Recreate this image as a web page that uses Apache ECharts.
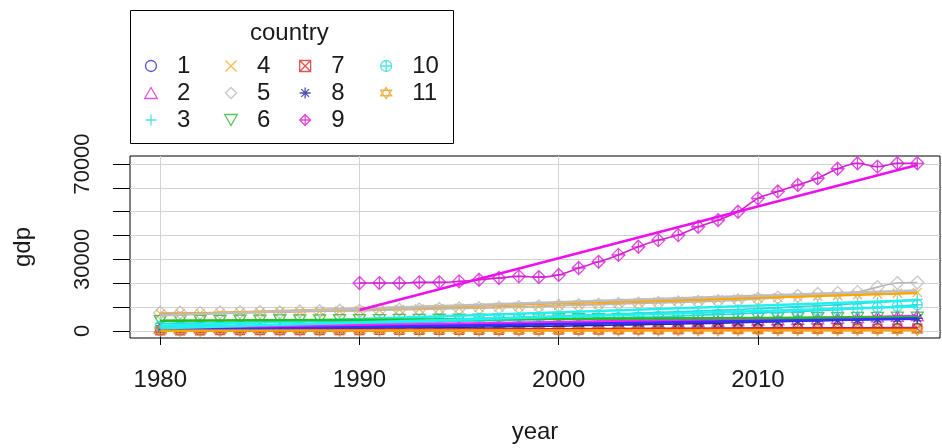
<!DOCTYPE html>
<html lang="en">
<head>
    <meta charset="UTF-8">
    <title>gdp by year and country</title>
    <script src="https://cdn.jsdelivr.net/npm/echarts@6/dist/echarts.min.js"></script>
</head>
<body style="margin:0;background:#fff">
<div id="main" style="width:942px;height:448px"></div>
</body>

<script>
    // years on the x axis
    const years = [1980, 1981, 1982, 1983, 1984, 1985, 1986, 1987, 1988, 1989,
        1990, 1991, 1992, 1993, 1994, 1995, 1996, 1997, 1998, 1999,
        2000, 2001, 2002, 2003, 2004, 2005, 2006, 2007, 2008, 2009,
        2010, 2011, 2012, 2013, 2014, 2015, 2016, 2017, 2018];
    // country 9 only starts in 1990
    const years9 = years.slice(10);

    const countries = ['1', '2', '3', '4', '5', '6', '7', '8', '9', '10', '11'];

    // gdp per country
    const gdp1 = [250, 260, 280, 300, 310, 330, 350, 380, 400, 420, 450, 470, 500, 520, 540, 560, 590, 620, 650, 680,
        700, 730, 760, 800, 830, 870, 900, 940, 980, 1020, 1050, 1080, 1100, 1130, 1150, 1180, 1200, 1230, 1260];
    const gdp2 = [1400, 1450, 1480, 1500, 1550, 1600, 1650, 1700, 1780, 1850, 1900, 1950, 2000, 2100, 2200, 2300, 2400, 2500, 2600, 2700,
        2850, 3000, 3150, 3300, 3450, 3600, 3800, 4000, 4200, 4400, 4600, 4800, 5000, 5200, 5400, 5700, 6000, 6200, 6500];
    const gdp3 = [3200, 3300, 3300, 3400, 3500, 3600, 3700, 3800, 3900, 4000, 4200, 4300, 4500, 4700, 4900, 5100, 5300, 5500, 5700, 6000,
        6300, 6600, 6900, 7200, 7500, 7800, 8100, 8400, 8700, 9000, 9400, 9800, 10200, 10600, 11000, 11500, 12000, 12600, 13200];
    const gdp4 = [7200, 7300, 7400, 7500, 7700, 7800, 8000, 8100, 8300, 8400, 8600, 8800, 9000, 9200, 9400, 9600, 9800, 10000, 10200, 10400,
        10700, 11000, 11300, 11600, 11900, 12200, 12500, 12800, 13100, 13400, 13700, 14000, 14300, 14600, 14900, 15200, 15500, 15800, 16200];
    const gdp5 = [7600, 7700, 7500, 7800, 7900, 8000, 7800, 8200, 8300, 8500, 8400, 8700, 8900, 9000, 9200, 9400, 9600, 9800, 10000, 10300,
        10600, 10800, 11000, 11300, 11500, 11800, 12000, 12200, 12500, 12800, 13400, 14000, 14700, 15500, 15900, 16300, 18400, 20100, 20300];
    const gdp6 = [4300, 4350, 4400, 4400, 4450, 4500, 4550, 4550, 4600, 4650, 4700, 4700, 4750, 4800, 4850, 4850, 4900, 4950, 5000, 5000,
        5050, 5100, 5150, 5150, 5200, 5250, 5300, 5300, 5350, 5400, 5450, 5450, 5500, 5550, 5600, 5600, 5650, 5700, 5750];
    const gdp7 = [300, 310, 320, 330, 340, 350, 360, 380, 390, 400, 420, 430, 450, 460, 480, 500, 510, 530, 550, 570,
        590, 610, 630, 650, 680, 700, 720, 750, 780, 800, 830, 860, 890, 920, 950, 980, 1010, 1040, 1080];
    const gdp8 = [800, 820, 850, 880, 900, 950, 1000, 1050, 1100, 1150, 1200, 1250, 1300, 1380, 1450, 1550, 1650, 1750, 1850, 1950,
        2050, 2200, 2350, 2500, 2650, 2800, 2950, 3100, 3300, 3500, 3700, 3900, 4100, 4300, 4500, 4700, 4900, 5100, 5300];
    const gdp9 = [20100, 20100, 20100, 20400, 20400, 20800, 21500, 22200, 22900, 22600,
        23500, 26400, 29000, 31900, 35300, 38100, 40200, 43700, 46500, 50000,
        55600, 58500, 61200, 64000, 68000, 70300, 68900, 70300, 70300];
    const gdp10 = [2000, 2050, 2100, 2200, 2300, 2400, 2500, 2600, 2700, 2800, 3000, 3200, 3400, 3600, 3800, 4000, 4200, 4400, 4600, 4800,
        5000, 5200, 5400, 5600, 5800, 6000, 6300, 6600, 6900, 7200, 7500, 7800, 8100, 8500, 8900, 9400, 9900, 10400, 11000];
    const gdp11 = [100, 110, 110, 120, 120, 130, 130, 140, 140, 150, 150, 160, 160, 170, 180, 180, 190, 200, 200, 210,
        220, 230, 240, 250, 260, 270, 280, 290, 300, 310, 320, 330, 340, 350, 360, 370, 380, 390, 400];

    const gdpByCountry = [gdp1, gdp2, gdp3, gdp4, gdp5, gdp6, gdp7, gdp8, gdp9, gdp10, gdp11];
    const yearsByCountry = countries.map((c, i) => i === 8 ? years9 : years);

    // straight fitted line of each country, at its first and its last year
    const fitStart = [150, 1000, 2200, 6900, 6600, 4300, 200, 300, 8800, 1200, 90];
    const fitEnd = [1250, 6200, 12900, 15900, 17000, 5750, 1000, 5200, 69600, 10300, 390];

    // axis ticks and labels
    const xTicks = [1980, 1990, 2000, 2010];
    const yTicks = [0, 10000, 20000, 30000, 40000, 50000, 60000, 70000];
    const yLabels = [0, 30000, 70000];

    // legend columns, filled column by column as R does
    const legendColumns = [['1', '2', '3'], ['4', '5', '6'], ['7', '8', '9'], ['10', '11']];
    const legendLefts = [144, 224, 299, 380];

    const colors = ['#2727c8', '#d62cd6', '#2ad8d8', '#f5a623', '#b9b9b9', '#2fb22f',
        '#d42a2a', '#23239e', '#d41fd4', '#2ad8d8', '#e8a020'];
    const lineColors = ['#3030ff', '#ff20ff', '#20f0f0', '#ffa500', '#bebebe', '#20c020',
        '#ff2020', '#3030ff', '#ee10ee', '#20f0f0', '#ffa500'];

    // R style plotting characters 1..11
    const symbols = [
        'path://M20,10A10,10,0,1,1,0,10A10,10,0,1,1,20,10Z',
        'path://M10,0L20,17.32L0,17.32Z',
        'path://M10,0L10,20M0,10L20,10',
        'path://M0,0L20,20M20,0L0,20',
        'path://M10,0L20,10L10,20L0,10Z',
        'path://M0,0L20,0L10,17.32Z',
        'path://M0,0L20,0L20,20L0,20ZM0,0L20,20M20,0L0,20',
        'path://M10,0L10,20M0,10L20,10M3,3L17,17M17,3L3,17',
        'path://M10,0L20,10L10,20L0,10ZM10,0L10,20M0,10L20,10',
        'path://M20,10A10,10,0,1,1,0,10A10,10,0,1,1,20,10ZM10,0L10,20M0,10L20,10',
        'path://M10,0L20,15L0,15ZM0,5L20,5L10,20Z'
    ];
    const symbolSizes = [9, 12, 11, 9, 13, 12, 9, 11, 13, 10, 11];

    const font = 'Liberation Sans, Arial, sans-serif';
    const textColor = '#1a1a1a';

    const chart = echarts.init(document.getElementById('main'));

    const pointSeries = countries.map((name, i) => ({
        name: name,
        type: 'scatter',
        symbol: symbols[i],
        symbolSize: symbolSizes[i],
        symbolKeepAspect: true,
        clip: false,
        itemStyle: {color: 'transparent', borderColor: colors[i], borderWidth: 1.3},
        data: yearsByCountry[i].map((y, k) => [y, gdpByCountry[i][k]])
    }));

    const smoothSeries = countries.map((name, i) => ({
        name: name + ' smooth',
        type: 'line',
        smooth: 0.3,
        showSymbol: false,
        silent: true,
        lineStyle: {color: colors[i], width: 1.6},
        data: yearsByCountry[i].map((y, k) => [y, gdpByCountry[i][k]])
    }));

    const fitSeries = countries.map((name, i) => {
        const ys = yearsByCountry[i];
        return {
            name: name + ' fit',
            type: 'line',
            showSymbol: false,
            silent: true,
            lineStyle: {color: lineColors[i], width: 2.6},
            data: [[ys[0], fitStart[i]], [ys[ys.length - 1], fitEnd[i]]]
        };
    });

    const legends = legendColumns.map((names, c) => ({
        orient: 'vertical',
        left: legendLefts[c],
        top: 54,
        padding: 0,
        itemGap: 3,
        itemWidth: 42,
        itemHeight: 11,
        selectedMode: false,
        textStyle: {fontFamily: font, fontSize: 24, color: textColor},
        data: names.map(name => {
            const i = countries.indexOf(name);
            return {
                name: name,
                icon: symbols[i],
                itemStyle: {color: 'transparent', borderColor: colors[i], borderWidth: 1.3}
            };
        })
    }));

    const plainNumber = v => String(v);

    const option = {
        animation: false,
        backgroundColor: '#fff',
        graphic: [{
            type: 'rect',
            shape: {x: 130.5, y: 10.5, width: 323, height: 133},
            style: {fill: 'none', stroke: '#000', lineWidth: 1}
        }, {
            type: 'text',
            left: 250,
            top: 21,
            style: {text: 'country', font: '24px ' + font, fill: textColor}
        }],
        legend: legends,
        grid: {
            left: 130, right: 2, top: 156, bottom: 110,
            show: true, borderColor: '#000', borderWidth: 1,
            outerBoundsMode: 'none'
        },
        xAxis: {
            type: 'value',
            min: 1978.48,
            max: 2019.14,
            name: 'year',
            nameLocation: 'middle',
            nameGap: 82,
            nameMoveOverlap: false,
            nameTextStyle: {fontFamily: font, fontSize: 24, color: textColor},
            axisLine: {show: false},
            axisTick: {show: true, length: 14, lineStyle: {color: '#000'}, customValues: xTicks},
            axisLabel: {fontFamily: font, fontSize: 24, color: textColor, margin: 30,
                customValues: xTicks, formatter: plainNumber},
            splitLine: {show: true, lineStyle: {color: '#d3d3d3', width: 1}}
        },
        yAxis: {
            type: 'value',
            min: -2934,
            max: 73353,
            name: 'gdp',
            nameLocation: 'middle',
            nameGap: 95,
            nameMoveOverlap: false,
            nameTextStyle: {fontFamily: font, fontSize: 24, color: textColor},
            axisLine: {show: false},
            axisTick: {show: true, length: 17, lineStyle: {color: '#000'}, customValues: yTicks},
            axisLabel: {fontFamily: font, fontSize: 22, color: textColor, rotate: 90, margin: 36,
                customValues: yLabels, formatter: plainNumber},
            splitLine: {show: true, lineStyle: {color: '#d3d3d3', width: 1}}
        },
        series: [...pointSeries, ...smoothSeries, ...fitSeries]
    };

    chart.setOption(option);
</script>

</html>
